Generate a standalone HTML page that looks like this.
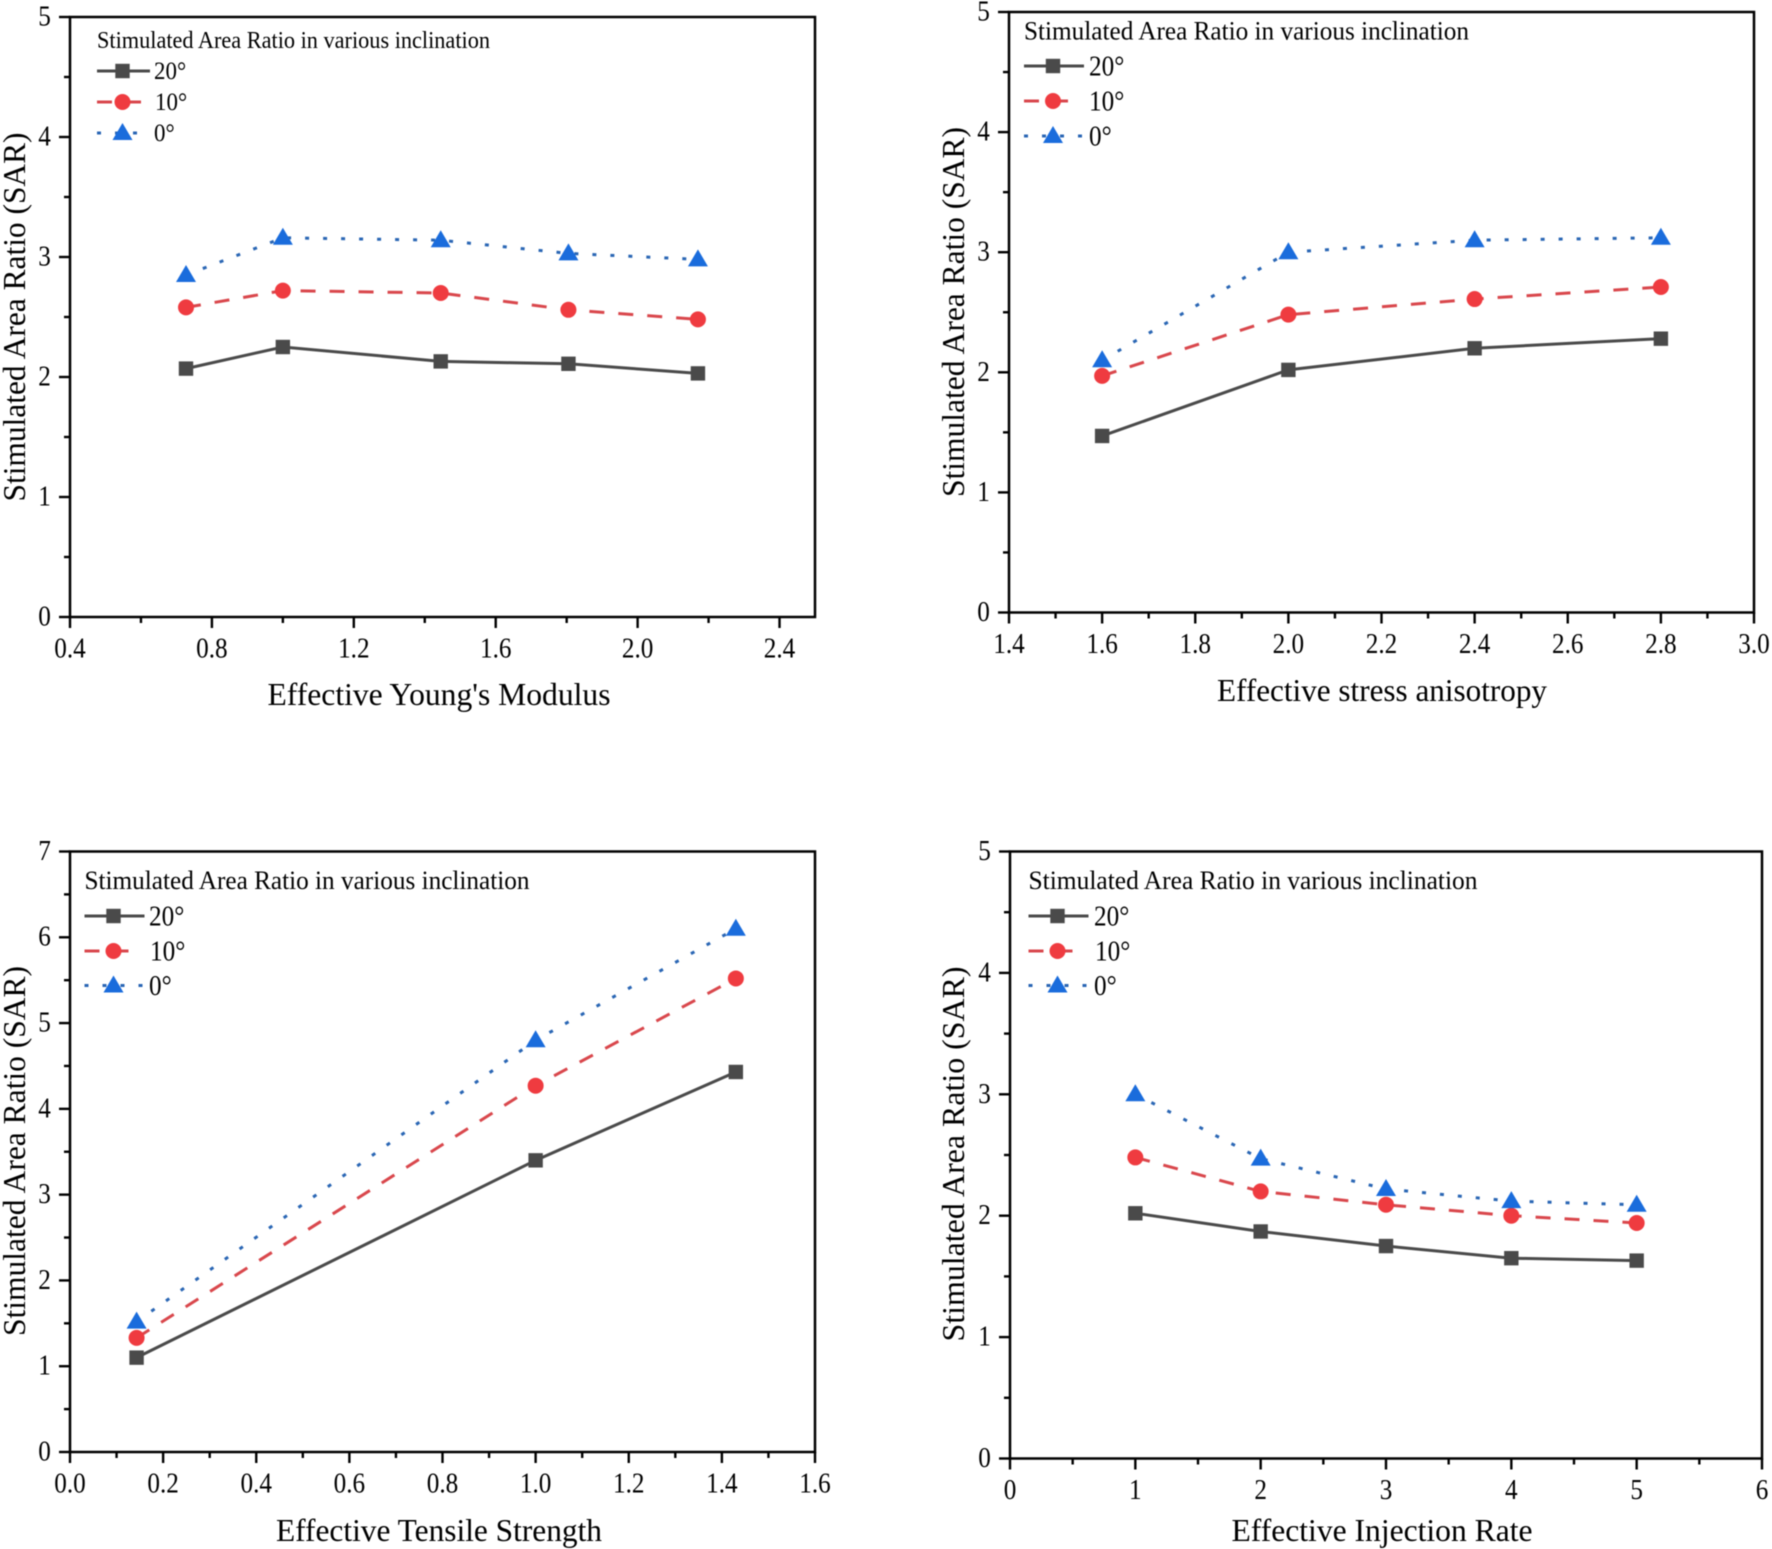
<!DOCTYPE html>
<html lang="en">
<head>
<meta charset="utf-8">
<title>Stimulated Area Ratio in various inclination</title>
<style>
html,body{margin:0;padding:0;background:#fff;}
#figure{display:block;width:1772px;height:1549px;font-family:"Liberation Serif",serif;fill:#000;filter:blur(0.4px);}
</style>
</head>
<body>
<svg id="figure" xmlns="http://www.w3.org/2000/svg" width="1772" height="1549" viewBox="0 0 1772 1549"></svg>
<script>
// Panel A: Effective Young's Modulus
const youngX = [0.727, 1.0, 1.445, 1.805, 2.17];
const young20 = [2.07, 2.25, 2.13, 2.11, 2.03];
const young10 = [2.58, 2.72, 2.70, 2.56, 2.48];
const young0 = [2.85, 3.16, 3.14, 3.03, 2.98];
const youngXTicks = ['0.4', '0.8', '1.2', '1.6', '2.0', '2.4'];
// Panel B: Effective stress anisotropy
const stressX = [1.6, 2.0, 2.4, 2.8];
const stress20 = [1.47, 2.02, 2.20, 2.28];
const stress10 = [1.97, 2.48, 2.61, 2.71];
const stress0 = [2.10, 3.00, 3.10, 3.12];
const stressXTicks = ['1.4', '1.6', '1.8', '2.0', '2.2', '2.4', '2.6', '2.8', '3.0'];
// Panel C: Effective Tensile Strength
const tensileX = [0.143, 1.0, 1.43];
const tensile20 = [1.10, 3.40, 4.43];
const tensile10 = [1.33, 4.27, 5.52];
const tensile0 = [1.52, 4.80, 6.10];
const tensileXTicks = ['0.0', '0.2', '0.4', '0.6', '0.8', '1.0', '1.2', '1.4', '1.6'];
// Panel D: Effective Injection Rate
const injectionX = [1, 2, 3, 4, 5];
const injection20 = [2.02, 1.87, 1.75, 1.65, 1.63];
const injection10 = [2.48, 2.20, 2.09, 2.00, 1.94];
const injection0 = [3.00, 2.47, 2.22, 2.12, 2.09];
const injectionXTicks = ['0', '1', '2', '3', '4', '5', '6'];
// Shared
const yTicks5 = ['0', '1', '2', '3', '4', '5'];
const yTicks7 = ['0', '1', '2', '3', '4', '5', '6', '7'];
const seriesNames = ['20°', '10°', '0°'];
const legendTitle = 'Stimulated Area Ratio in various inclination';
const yTitle = 'Stimulated Area Ratio (SAR)';

const NS = 'http://www.w3.org/2000/svg';
const svg = document.getElementById('figure');
const lineColors = ['#4a4a4a', '#d9474c', '#2a66b4'];
const markColors = ['#4a4a4a', '#ef3b40', '#1a6cdc'];
const dashes = [null, '15 14', '4 14'];

function make(tag, parent, attrs, text) {
  const e = document.createElementNS(NS, tag);
  for (const k in attrs) e.setAttribute(k, attrs[k]);
  if (text !== undefined) e.textContent = text;
  parent.appendChild(e);
  return e;
}

function drawMarker(parent, kind, cx, cy) {
  const fill = markColors[kind];
  if (kind === 0) return make('rect', parent, {x: cx - 7.2, y: cy - 7.2, width: 14.4, height: 14.4, fill: fill});
  if (kind === 1) return make('circle', parent, {cx: cx, cy: cy, r: 8, fill: fill});
  return make('polygon', parent, {points: (cx - 10) + ',' + (cy + 7) + ' ' + (cx + 10) + ',' + (cy + 7) + ' ' + cx + ',' + (cy - 10), fill: fill});
}

function drawPanel(p) {
  const g = make('g', svg, {});
  
  

  const sx = v => p.left + (v - p.xMin) / (p.xMax - p.xMin) * (p.right - p.left);
  const sy = v => p.bottom - (v - p.yMin) / (p.yMax - p.yMin) * (p.bottom - p.top);

  const frame = make('rect', g, {x: p.left, y: p.top, width: p.right - p.left, height: p.bottom - p.top, fill: 'none', stroke: '#000', 'stroke-width': 2.5});
  
  

  // x axis ticks
  p.xTicks.forEach((label, i) => {
    const v = p.xMin + i * p.xStep;
    const x = sx(v);
    const tick = make('line', g, {x1: x, x2: x, y1: p.bottom, y2: p.bottom + 11, stroke: '#000', 'stroke-width': 2.4});
    
    
    const t = make('text', g, {transform: 'translate(' + x + ' ' + (p.bottom + 31) + ') scale(0.9 1)', 'text-anchor': 'middle', 'dominant-baseline': 'central', 'font-size': 28}, label);
    
    
    const mv = v + p.xStep / 2;
    if (mv < p.xMax) {
      const minor = make('line', g, {x1: sx(mv), x2: sx(mv), y1: p.bottom, y2: p.bottom + 6, stroke: '#000', 'stroke-width': 2.4});
      
      
    }
  });

  // y axis ticks
  p.yTicks.forEach((label, i) => {
    const v = p.yMin + i;
    const y = sy(v);
    const tick = make('line', g, {x1: p.left - 11, x2: p.left, y1: y, y2: y, stroke: '#000', 'stroke-width': 2.4});
    
    
    const t = make('text', g, {transform: 'translate(' + (p.left - 25.5) + ' ' + (y - 1) + ') scale(0.9 1)', 'text-anchor': 'middle', 'dominant-baseline': 'central', 'font-size': 28}, label);
    
    
    if (i < p.yTicks.length - 1) {
      const my = sy(v + 0.5);
      const minor = make('line', g, {x1: p.left - 6, x2: p.left, y1: my, y2: my, stroke: '#000', 'stroke-width': 2.4});
      
      
    }
  });

  // axis titles
  const xt = make('text', g, {x: p.xTitleX, y: p.xTitleY, 'text-anchor': 'middle', 'dominant-baseline': 'central', 'font-size': 32, textLength: p.xTitleW, lengthAdjust: 'spacingAndGlyphs'}, p.xTitle);
  
  
  const yt = make('text', g, {transform: 'translate(' + p.yTitleX + ' ' + p.yTitleY + ') rotate(-90)', 'text-anchor': 'middle', 'dominant-baseline': 'central', 'font-size': 32, textLength: p.yTitleW, lengthAdjust: 'spacingAndGlyphs'}, yTitle);
  
  

  // series
  p.series.forEach((vals, k) => {
    const pts = vals.map((v, i) => sx(p.x[i]) + ',' + sy(v)).join(' ');
    const attrs = {points: pts, fill: 'none', stroke: lineColors[k], 'stroke-width': 3};
    if (dashes[k]) attrs['stroke-dasharray'] = dashes[k];
    const line = make('polyline', g, attrs);
    
    
  });
  p.series.forEach((vals, k) => {
    vals.forEach((v, i) => {
      const m = drawMarker(g, k, sx(p.x[i]), sy(v));
      
      
    });
  });

  // legend
  const lg = make('g', g, {});
  
  
  const lt = make('text', lg, {x: p.legX, y: p.legTitleY, 'dominant-baseline': 'central', 'font-size': p.legFont + 2.5, textLength: p.legW, lengthAdjust: 'spacingAndGlyphs'}, legendTitle);
  
  
  seriesNames.forEach((name, k) => {
    const y = p.legRows[k];
    const rowLen = k === 1 ? p.legLine - p.legShort : p.legLine;
    const attrs = {x1: p.legX, x2: p.legX + rowLen, y1: y, y2: y, stroke: lineColors[k], 'stroke-width': 3};
    if (dashes[k]) attrs['stroke-dasharray'] = dashes[k];
    const ll = make('line', lg, attrs);
    
    
    const lm = drawMarker(lg, k, p.legX + p.legLine / 2 - 1, y);
    
    
    const la = make('text', lg, {transform: 'translate(' + (p.legLabelX + p.labelShift[k]) + ' ' + y + ') scale(0.9 1)', 'dominant-baseline': 'central', 'font-size': p.legFont + 4}, name);
    
    
  });
}

drawPanel({
  name: 'panel-young-modulus', left: 70, right: 815, top: 17, bottom: 617,
  xMin: 0.4, xMax: 2.5, xStep: 0.4, yMin: 0, yMax: 5,
  xTicks: youngXTicks, yTicks: yTicks5, x: youngX, series: [young20, young10, young0],
  xTitle: "Effective Young's Modulus", xTitleX: 439, xTitleY: 694, xTitleW: 343, yTitleX: 14, yTitleY: 317, yTitleW: 369,
  legX: 97, legTitleY: 41, legW: 393, legFont: 21.5, legRows: [71, 102, 133], legLine: 53, legShort: 8, legLabelX: 154, labelShift: [0, 1, 0]
});
drawPanel({
  name: 'panel-stress-anisotropy', left: 1009, right: 1754, top: 12, bottom: 612.5,
  xMin: 1.4, xMax: 3.0, xStep: 0.2, yMin: 0, yMax: 5,
  xTicks: stressXTicks, yTicks: yTicks5, x: stressX, series: [stress20, stress10, stress0],
  xTitle: 'Effective stress anisotropy', xTitleX: 1382, xTitleY: 690, xTitleW: 330, yTitleX: 953, yTitleY: 312, yTitleW: 370,
  legX: 1024, legTitleY: 30.5, legW: 445, legFont: 24, legRows: [66, 101, 136], legLine: 60, legShort: 14, legLabelX: 1089, labelShift: [0, 0, 0]
});
drawPanel({
  name: 'panel-tensile-strength', left: 70, right: 815, top: 851.5, bottom: 1452,
  xMin: 0, xMax: 1.6, xStep: 0.2, yMin: 0, yMax: 7,
  xTicks: tensileXTicks, yTicks: yTicks7, x: tensileX, series: [tensile20, tensile10, tensile0],
  xTitle: 'Effective Tensile Strength', xTitleX: 439, xTitleY: 1530, xTitleW: 326, yTitleX: 14, yTitleY: 1151, yTitleW: 370,
  legX: 84.5, legTitleY: 880, legW: 445, legFont: 24, legRows: [916, 951, 985.5], legLine: 60, legShort: 14, legLabelX: 149, labelShift: [0, 1, 0]
});
drawPanel({
  name: 'panel-injection-rate', left: 1010, right: 1762, top: 851.5, bottom: 1458.5,
  xMin: 0, xMax: 6, xStep: 1, yMin: 0, yMax: 5,
  xTicks: injectionXTicks, yTicks: yTicks5, x: injectionX, series: [injection20, injection10, injection0],
  xTitle: 'Effective Injection Rate', xTitleX: 1382, xTitleY: 1530, xTitleW: 301, yTitleX: 953, yTitleY: 1154, yTitleW: 375,
  legX: 1028.5, legTitleY: 880, legW: 449, legFont: 24, legRows: [916, 951, 985.5], legLine: 60, legShort: 14, legLabelX: 1094, labelShift: [0, 1, 0]
});
</script>
</body>
</html>
